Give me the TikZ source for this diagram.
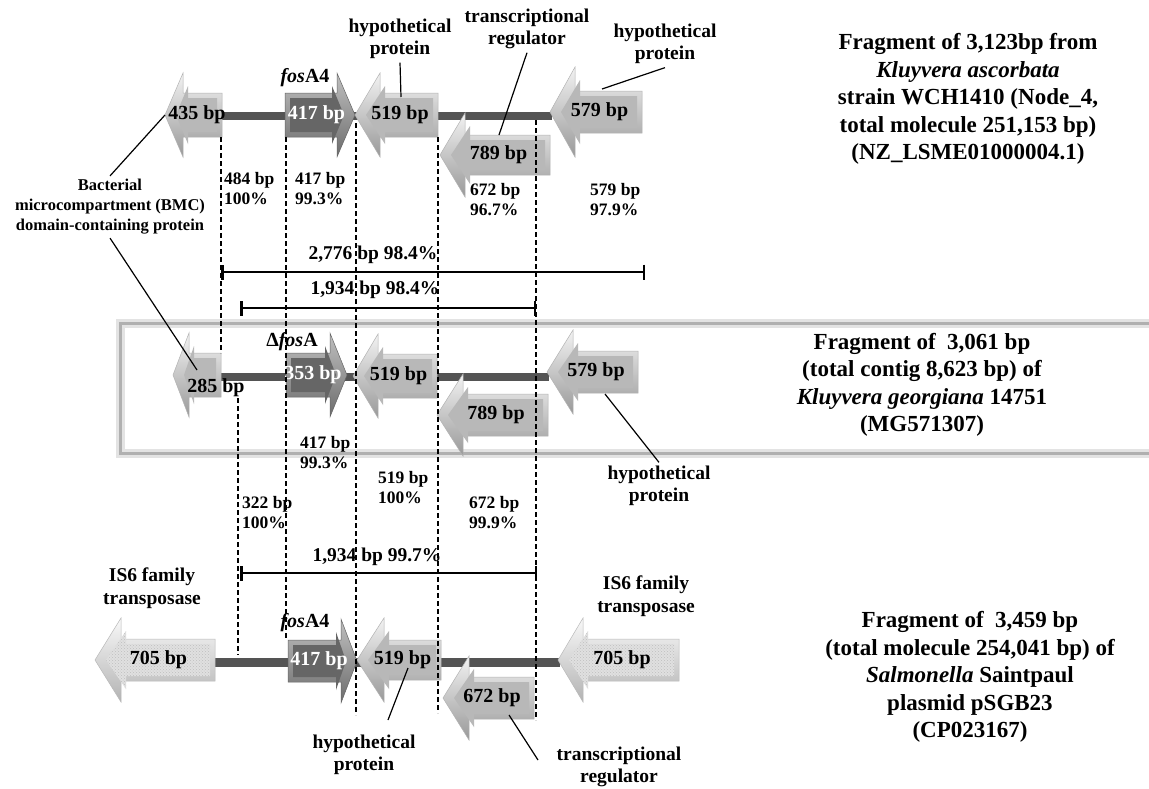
\documentclass[tikz,border=0pt]{standalone}
\usepackage{fontspec}
\setmainfont{Liberation Serif}
\usetikzlibrary{arrows.meta,patterns,calc}
\definecolor{facelt}{gray}{0.72}
\definecolor{facedk}{gray}{0.40}
\definecolor{facetx}{gray}{0.88}
\definecolor{bbcol}{gray}{0.33}
\tikzset{
  outer lt/.style={top color=gray!10, bottom color=gray!80, draw=gray!60, line width=0.5},
  inner lt/.style={fill=facelt},
  text lt/.style={font=\bfseries\fontsize{20}{22}\selectfont, text=black, inner sep=0},
  outer dk/.style={top color=gray!50, bottom color=gray!85!black, draw=gray!80!black, line width=0.5},
  inner dk/.style={fill=facedk},
  text dk/.style={font=\bfseries\fontsize{20}{22}\selectfont, text=white, inner sep=0},
  outer tx/.style={top color=gray!5, bottom color=gray!60, draw=gray!55, line width=0.5},
  inner tx/.style={fill=facetx, postaction={pattern=crosshatch dots, pattern color=gray!50}},
  text tx/.style={font=\bfseries\fontsize{20}{22}\selectfont, text=black, inner sep=0},
  backbone/.style={draw=bbcol, line width=8},
  dashline/.style={draw=black, line width=1.2, dash pattern=on 5pt off 3pt},
  measure/.style={draw=black, line width=2.5, {Bar[width=15pt,line width=2.5pt]}-{Bar[width=15pt,line width=2.5pt]}},
  lead/.style={draw=black, line width=1.2},
  fragtxt/.style={font=\bfseries\fontsize{23}{27.5}\selectfont, align=center},
  anntxt/.style={font=\bfseries\fontsize{19.5}{22.5}\selectfont, align=center},
  bmctxt/.style={font=\bfseries\fontsize{16.5}{20}\selectfont, align=center},
  idtxt/.style={font=\bfseries\fontsize{17.5}{20}\selectfont, align=left, anchor=west, inner sep=0},
  bartxt/.style={font=\bfseries\fontsize{19.5}{21}\selectfont, inner sep=0},
  genename/.style={font=\bfseries\fontsize{20}{22}\selectfont, inner sep=0},
  framebox/.style={draw=gray!62, line width=2.5, preaction={draw=gray!22, line width=9}},
}
\newcommand{\genearrow}[9]{%
  \pgfmathsetmacro{\gS}{(#4>#2)?1:-1}%
  \pgfmathsetmacro{\gTi}{#2+\gS*11}%
  \pgfmathsetmacro{\gBi}{#3+\gS*5}%
  \pgfmathsetmacro{\gEi}{#4-\gS*5}%
  \pgfmathsetmacro{\gHt}{#5-#7+13}%
  \pgfmathsetmacro{\gHb}{#5+#7-13}%
  \pgfmathsetmacro{\gBt}{#5-#6}%
  \pgfmathsetmacro{\gBb}{#5+#6}%
  \pgfmathsetmacro{\gIt}{#5-#6+5}%
  \pgfmathsetmacro{\gIb}{#5+#6-5}%
  \pgfmathsetmacro{\gOt}{#5-#7}%
  \pgfmathsetmacro{\gOb}{#5+#7}%
  \pgfmathsetmacro{\gLx}{(#2+#4)/2+\gS*3.5}%
  \path[outer #8] (#2,#5) -- (#3,\gOt) -- (#3,\gBt) -- (#4,\gBt) -- (#4,\gBb) -- (#3,\gBb) -- (#3,\gOb) -- cycle;
  \path[inner #8] (\gTi,#5) -- (\gBi,\gHt) -- (\gBi,\gIt) -- (\gEi,\gIt) -- (\gEi,\gIb) -- (\gBi,\gIb) -- (\gBi,\gHb) -- cycle;
  \coordinate (#1-tip) at (#2,#5);
  \coordinate (#1-end) at (#4,#5);
  \node[text #8] (#1) at (\gLx,#5) {#9};
}
\begin{document}
\begin{tikzpicture}[x=1pt,y=-1pt]
\useasboundingbox (0,0) rectangle (1149,788);
\fill[white] (0,0) rectangle (1149,788);
\clip (0,0) rectangle (1149,788);

% frame around the middle fragment
\node[framebox, minimum width=1060pt, minimum height=130pt, anchor=north west, inner sep=0] (frame) at (119,322) {};

% backbones
\coordinate (bb1l) at (222,116); \coordinate (bb1r) at (552,116);
\coordinate (bb2l) at (221,377); \coordinate (bb2r) at (549,377);
\coordinate (bb3l) at (215,662); \coordinate (bb3r) at (560,662);
\draw[backbone] (bb1l) -- (bb1r);
\draw[backbone] (bb2l) -- (bb2r);
\draw[backbone, line width=9] (bb3l) -- (bb3r);

% row 1: Kluyvera ascorbata
\genearrow{g435}{165}{183}{222}{115}{22}{42}{lt}{435 bp}
\genearrow{g417a}{355}{337}{285}{115}{22}{42}{dk}{417 bp}
\genearrow{g519a}{355}{380}{438}{115}{22}{42}{lt}{519 bp}
\genearrow{g789a}{440}{465}{550}{155}{20}{42}{lt}{789 bp}
\genearrow{g579a}{550}{575}{642}{112}{21}{45}{lt}{579 bp}

% row 2: Kluyvera georgiana
\genearrow{g285}{173}{189}{221}{375}{22}{42}{lt}{}
\genearrow{g353}{347}{330}{286}{375}{22}{42}{dk}{353 bp}
\genearrow{g519b}{353}{378}{437}{376}{22}{42}{lt}{519 bp}
\genearrow{g789b}{437}{463}{548}{415}{21}{41}{lt}{789 bp}
\genearrow{g579b}{547}{573}{638}{372}{21}{42}{lt}{579 bp}
\node[text lt] (l285) at (216,388) {285 bp};

% row 3: Salmonella Saintpaul
\genearrow{g705a}{95}{121}{215}{660}{21}{42}{tx}{705 bp}
\genearrow{g417c}{357}{341}{288}{661}{21}{42}{dk}{417 bp}
\genearrow{g519c}{357}{384}{441}{660}{20}{42}{lt}{519 bp}
\genearrow{g672}{443}{469}{534}{698}{21}{42}{lt}{672 bp}
\genearrow{g705b}{558}{583}{679}{660}{21}{42}{tx}{705 bp}

% gene names
\node[genename] (nfos1) at (305,78) {\textit{fos}A4};
\node[genename] (nfos2) at (292,342) {Δ\textit{fos}A};
\node[genename] (nfos3) at (305,623) {\textit{fos}A4};

% dashed alignment lines
\coordinate (dA1) at (221,137); \coordinate (dA2) at (221,353);
\coordinate (dB1) at (238,398); \coordinate (dB2) at (238,655);
\coordinate (dC1) at (286,137); \coordinate (dC2) at (286,640);
\coordinate (dD1) at (356,123); \coordinate (dD2) at (356,715);
\coordinate (dE1) at (438,137); \coordinate (dE2) at (438,713);
\coordinate (dF1) at (536,120); \coordinate (dF2) at (536,720);
\draw[dashline] (dA1) -- (dA2);
\draw[dashline] (dB1) -- (dB2);
\draw[dashline] (dC1) -- (dC2);
\draw[dashline] (dD1) -- (dD2);
\draw[dashline] (dE1) -- (dE2);
\draw[dashline] (dF1) -- (dF2);

% identity labels
\node[idtxt] (id1) at (224,189) {484 bp\\100\%};
\node[idtxt] (id2) at (295,189) {417 bp\\99.3\%};
\node[idtxt] (id3) at (470,200) {672 bp\\96.7\%};
\node[idtxt] (id4) at (590,200) {579 bp\\97.9\%};
\node[idtxt] (id5) at (300,453) {417 bp\\99.3\%};
\node[idtxt] (id6) at (378,488) {519 bp\\100\%};
\node[idtxt] (id7) at (242,513) {322 bp\\100\%};
\node[idtxt] (id8) at (469,513) {672 bp\\99.9\%};

% measure bars
\coordinate (m1a) at (221,272); \coordinate (m1b) at (645,272);
\coordinate (m2a) at (240,308); \coordinate (m2b) at (536,308);
\coordinate (m3a) at (240,573); \coordinate (m3b) at (537,573);
\draw[measure] (m1a) -- (m1b);
\draw[measure] (m2a) -- (m2b);
\draw[measure] (m3a) -- (m3b);
\node[bartxt] (bt1) at (373,255) {2,776 bp 98.4\%};
\node[bartxt] (bt2) at (375,290) {1,934 bp 98.4\%};
\node[bartxt] (bt3) at (377,557) {1,934 bp 99.7\%};

% annotation labels
\node[bmctxt] (bmc) at (110,207) {Bacterial\\microcompartment (BMC)\\domain-containing protein};
\node[anntxt] (hypA) at (400,39) {hypothetical\\protein};
\node[anntxt] (trA) at (527,29) {transcriptional\\regulator};
\node[anntxt] (hypB) at (665,44) {hypothetical\\protein};
\node[anntxt] (hypC) at (659,486) {hypothetical\\protein};
\node[anntxt] (isL) at (152,588) {IS6 family\\transposase};
\node[anntxt] (isR) at (646,596) {IS6 family\\transposase};
\node[anntxt] (hypD) at (364,755) {hypothetical\\protein};
\node[anntxt] (trB) at (619,767) {transcriptional\\regulator};

% leader lines
\coordinate (c285) at (197,370);
\coordinate (c519a) at (401,97);
\coordinate (c789a) at (499,135);
\coordinate (c579a) at (602,89);
\coordinate (c579b) at (605,394);
\coordinate (c519c) at (408,668);
\coordinate (hypDtop) at (388,720);
\coordinate (c672) at (509,715);
\coordinate (trBleft) at (538,760);
\draw[lead] (bmc.north) -- (g435-tip);
\draw[lead] (bmc.south) -- (c285);
\draw[lead] (hypA.south) -- (c519a);
\draw[lead] (trA.south) -- (c789a);
\draw[lead] (hypB.south) -- (c579a);
\draw[lead] (c579b) -- (hypC.north);
\draw[lead] (c519c) -- (hypDtop);
\draw[lead] (c672) -- (trBleft);

% fragment descriptions
\node[fragtxt] (frag1) at (968,99) {Fragment of 3,123bp from\\\textit{Kluyvera ascorbata}\\strain WCH1410 (Node\_4,\\total molecule 251,153 bp)\\(NZ\_LSME01000004.1)};
\node[fragtxt] (frag2) at (922,385) {Fragment of~~3,061 bp\\(total contig 8,623 bp) of\\\textit{Kluyvera georgiana} 14751\\(MG571307)};
\node[fragtxt] (frag3) at (970,677) {Fragment of~~3,459 bp\\(total molecule 254,041 bp) of\\\textit{Salmonella} Saintpaul\\plasmid pSGB23\\(CP023167)};
\end{tikzpicture}
\end{document}
